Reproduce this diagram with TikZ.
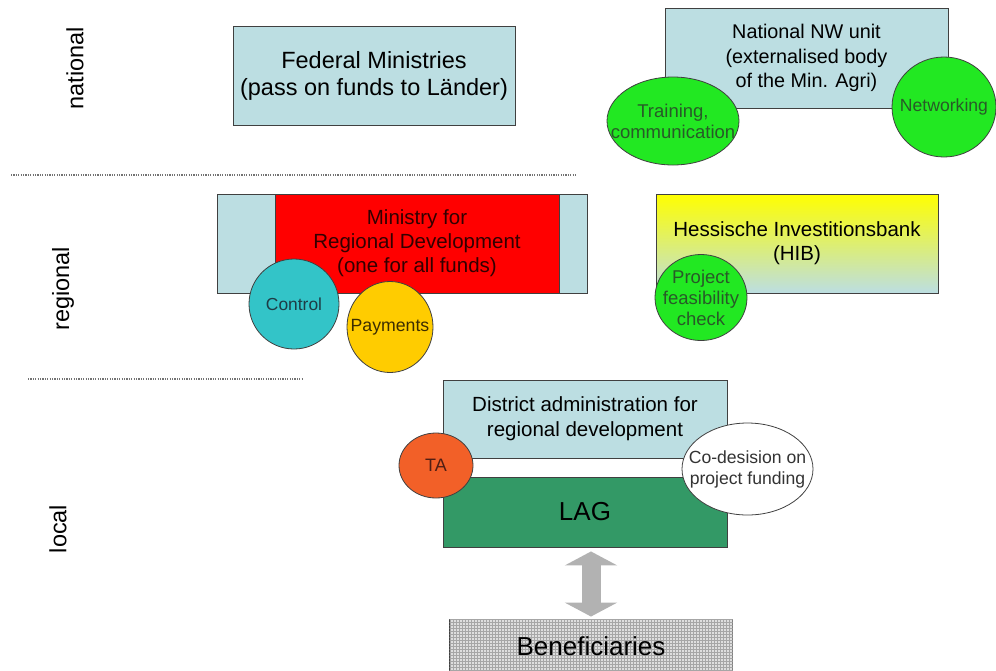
\documentclass[tikz,border=0pt]{standalone}
\usepackage{fontspec}
\setmainfont{Liberation Sans}
\usetikzlibrary{shapes.geometric,patterns,arrows.meta}

\definecolor{paleblue}{RGB}{188,222,226}
\definecolor{minred}{RGB}{255,0,0}
\definecolor{limegreen}{RGB}{34,232,34}
\definecolor{tealfill}{RGB}{51,196,200}
\definecolor{goldfill}{RGB}{255,204,0}
\definecolor{tangerine}{RGB}{242,96,40}
\definecolor{lagreen}{RGB}{51,153,102}
\definecolor{arrowgray}{RGB}{178,178,178}
\definecolor{edgegray}{RGB}{64,64,64}
\definecolor{benegray}{RGB}{222,222,222}
\definecolor{darkgreentext}{RGB}{40,90,40}

\newcommand\fsz[2]{\fontsize{#1}{#2}\selectfont}

\begin{document}
\begin{tikzpicture}[x=1pt,y=-1pt,
  panel/.style={draw=edgegray, line width=0.9pt, fill=paleblue, inner sep=0pt,
    align=center, text=black},
  % bubbles keep a fixed size; their text sits on top as a centred label
  bubble/.style={ellipse, draw=edgegray, line width=0.8pt, inner sep=0pt},
  btext/.style={inner sep=0pt, align=center},
  greenbubble/.style={bubble, fill=limegreen},
  level/.style={rotate=90, inner sep=0pt, font=\fsz{23.5}{28}},
  divider/.style={draw=black!55, line width=1.3pt, dash pattern=on 1.2pt off 1.2pt},
  link/.style={draw=arrowgray, fill=arrowgray, line width=19pt,
    {Triangle[length=14pt,width=52pt]}-{Triangle[length=14pt,width=52pt]}}]

\clip (0,0) rectangle (996,670);

% level labels and separators
\node[level] (lnat) at (75,68) {national};
\node[level] (lreg) at (63,289) {regional};
\node[level] (lloc) at (58,529) {local};
\draw[divider] (11,175) -- (577,175);
\draw[divider] (28,379) -- (303,379);

% national level
\node[panel, minimum width=282pt, minimum height=99pt, font=\fsz{23.5}{27}]
  (fed) at (374,75.5) {Federal Ministries\\(pass on funds to Länder)};
\node[panel, minimum width=283pt, minimum height=100pt, font=\fsz{19.8}{24.5}]
  (nw) at (806.5,58) {National NW unit\\(externalised body\\of the Min. Agri)};
\node[greenbubble, minimum width=132pt, minimum height=88pt,
  label={[btext, text=darkgreentext, font=\fsz{18.5}{21}]center:Training,\\communication}]
  (train) at (673,121) {};
\node[greenbubble, minimum width=104pt, minimum height=100pt,
  label={[btext, text=darkgreentext, font=\fsz{17.6}{21}]center:Networking}]
  (net) at (944,107) {};

% regional level
\node[panel, minimum width=370pt, minimum height=99pt] (minbg) at (402,243.5) {};
\node[panel, fill=minred, text={rgb,255:red,50;green,0;blue,0},
  minimum width=284pt, minimum height=99pt, font=\fsz{20.5}{24}]
  (min) at (417,243.5) {Ministry for\\Regional Development\\(one for all funds)};
\node[bubble, fill=tealfill, minimum width=90pt, minimum height=90pt,
  label={[btext, text={rgb,255:red,30;green,60;blue,70}, font=\fsz{17.4}{21}]center:Control}]
  (control) at (294,304) {};
\node[bubble, fill=goldfill, minimum width=86pt, minimum height=91pt,
  label={[btext, text={rgb,255:red,60;green,45;blue,0}, font=\fsz{17.7}{21}]center:Payments}]
  (pay) at (390,327) {};
\node[panel, top color=yellow, bottom color=paleblue,
  minimum width=282pt, minimum height=99pt, font=\fsz{20.5}{24}]
  (hib) at (797,243.5) {Hessische Investitionsbank\\(HIB)};
\node[greenbubble, minimum width=92pt, minimum height=86pt,
  label={[btext, text=darkgreentext, font=\fsz{18.5}{21}]center:Project\\feasibility\\check}]
  (proj) at (701,297.5) {};

% local level
\node[panel, minimum width=284pt, minimum height=78pt, font=\fsz{20.5}{25}]
  (dist) at (585,419) {District administration for\\regional development};
\node[panel, fill=lagreen, minimum width=284pt, minimum height=70pt, font=\fsz{26}{30}]
  (lag) at (585,512) {LAG};
\node[bubble, fill=tangerine, minimum width=74pt, minimum height=65pt,
  label={[btext, text={rgb,255:red,80;green,30;blue,20}, font=\fsz{18}{21}]center:TA}]
  (ta) at (436,465.5) {};
\node[bubble, fill=white, minimum width=131pt, minimum height=92pt,
  label={[btext, text=black!80, font=\fsz{17.6}{21}]center:Co-desision on\\project funding}]
  (codes) at (747.5,469) {};
\node[panel, fill=benegray, postaction={pattern=grid, pattern color=black!35},
  minimum width=283pt, minimum height=54pt, font=\fsz{26}{30}]
  (ben) at (591,646) {Beneficiaries};

% exchange between the LAG and the beneficiaries
\draw[link, shorten <=4pt, shorten >=2pt] (ben.north |- lag.south) -- (ben.north);

\end{tikzpicture}
\end{document}
